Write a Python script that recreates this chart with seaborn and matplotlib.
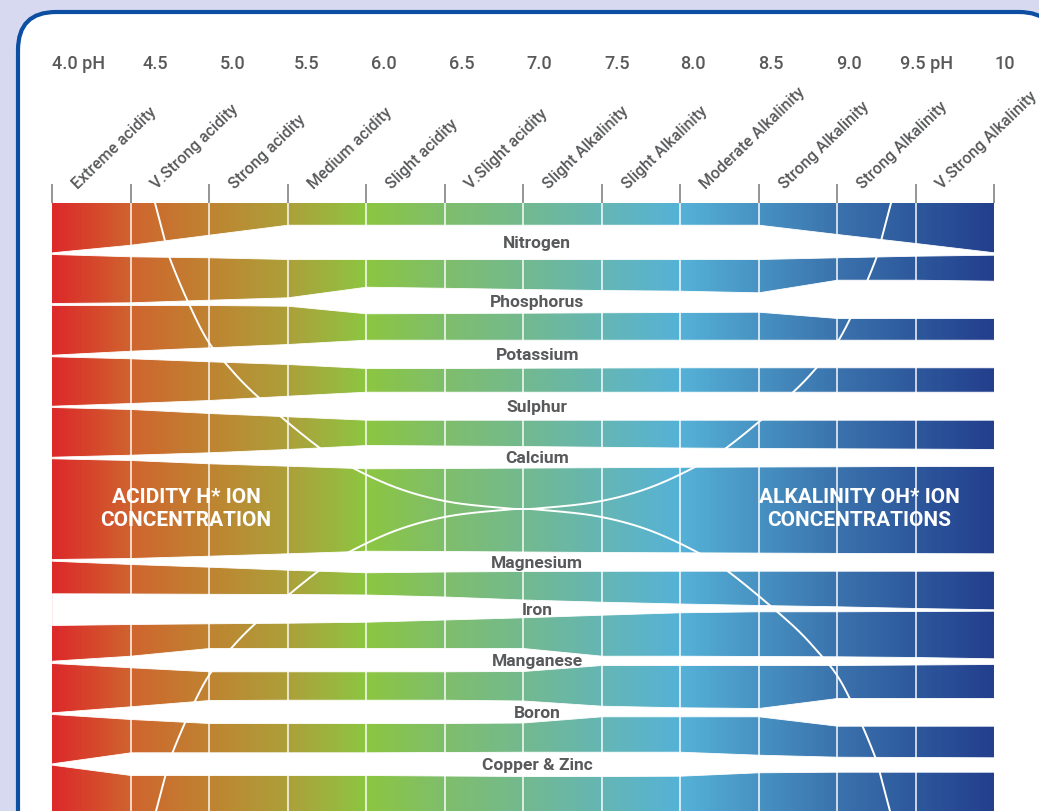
import numpy as np
import matplotlib
matplotlib.use("Agg")
import matplotlib.pyplot as plt
import seaborn as sns
from matplotlib.patches import FancyBboxPatch

# pH scale along the top
ph_ticks = [4.0, 4.5, 5.0, 5.5, 6.0, 6.5, 7.0, 7.5, 8.0, 8.5, 9.0, 9.5, 10.0]
ph_labels = ["4.0 pH", "4.5", "5.0", "5.5", "6.0", "6.5", "7.0", "7.5",
             "8.0", "8.5", "9.0", "9.5 pH", "10"]
zone_names = ["Extreme acidity", "V.Strong acidity", "Strong acidity",
              "Medium acidity", "Slight acidity", "V.Slight acidity",
              "Slight Alkalinity", "Slight Alkalinity", "Moderate Alkalinity",
              "Strong Alkalinity", "Strong Alkalinity", "V.Strong Alkalinity"]
# colour of the strip at each pH tick
ph_colors = ["#DC2A2A", "#CF652F", "#BF8431", "#ACA03A", "#8CC641", "#7FBE6C",
             "#73B98F", "#65B6B4", "#55B2D7", "#4893C3", "#3B73AD", "#2E599D",
             "#233F8D"]

# availability bands: upper and lower edge (depth from top, px) at each pH tick
nutrients = ["Nitrogen", "Phosphorus", "Potassium", "Sulphur", "Calcium",
             "Magnesium", "Iron", "Manganese", "Boron", "Copper & Zinc"]
nitrogen_top = [253.3, 245.7, 235.7, 225.7, 225.7, 225.7, 225.7, 225.7, 225.7, 225.7, 235.0, 244.0, 253.3]
nitrogen_bot = [255.0, 257.3, 258.3, 260.0, 260.0, 260.0, 260.0, 260.0, 260.0, 260.0, 258.3, 256.7, 255.7]
phosphorus_top = [304.0, 303.3, 300.7, 298.3, 287.7, 288.8, 290.0, 291.0, 291.7, 293.3, 280.7, 280.7, 281.7]
phosphorus_bot = [306.0, 306.0, 306.0, 306.7, 314.3, 314.0, 313.7, 313.3, 313.0, 312.7, 319.0, 319.0, 319.0]
potassium_top = [355.7, 351.7, 348.3, 345.0, 340.7, 340.7, 340.7, 340.7, 340.7, 340.7, 340.7, 340.7, 340.7]
potassium_bot = [357.3, 359.3, 362.3, 365.0, 369.0, 369.0, 368.7, 368.5, 368.3, 368.3, 368.3, 368.3, 368.3]
sulphur_top = [406.7, 404.0, 401.0, 396.7, 392.7, 392.7, 392.7, 392.7, 392.7, 392.7, 392.7, 392.7, 392.7]
sulphur_bot = [408.0, 410.0, 414.0, 417.3, 420.7, 420.7, 420.7, 420.7, 420.7, 420.7, 420.7, 420.7, 420.7]
calcium_top = [457.7, 455.7, 453.3, 450.0, 446.0, 446.5, 447.0, 447.8, 448.5, 449.0, 449.3, 449.6, 450.0]
calcium_bot = [459.3, 461.0, 464.3, 466.7, 469.3, 469.0, 468.6, 468.2, 467.8, 467.5, 467.3, 467.0, 467.0]
magnesium_top = [560.0, 559.0, 556.7, 554.3, 551.7, 552.0, 552.5, 553.0, 553.3, 553.6, 553.9, 554.1, 554.3]
magnesium_bot = [561.7, 565.0, 567.7, 570.7, 573.3, 572.5, 572.0, 571.8, 571.7, 571.7, 571.7, 571.7, 571.7]
iron_top = [594.3, 594.5, 594.8, 595.0, 595.5, 597.5, 600.5, 602.7, 604.5, 606.0, 607.3, 609.0, 610.3]
iron_bot = [626.0, 625.0, 624.3, 623.7, 622.7, 620.5, 618.3, 615.7, 613.3, 612.3, 612.3, 612.0, 611.7]
manganese_top = [661.7, 656.7, 649.0, 649.0, 649.0, 649.0, 649.0, 656.7, 656.7, 657.0, 657.3, 658.0, 659.3]
manganese_bot = [664.0, 668.3, 672.3, 672.3, 672.3, 672.3, 672.0, 666.0, 666.0, 666.0, 666.0, 665.5, 665.0]
boron_top = [713.3, 707.3, 701.0, 700.7, 700.7, 700.7, 701.5, 706.7, 708.3, 709.0, 699.0, 699.0, 699.0]
boron_bot = [715.0, 720.0, 724.0, 724.0, 724.0, 724.0, 723.5, 717.3, 717.3, 717.3, 726.7, 726.7, 726.7]
copper_zinc_top = [764.3, 753.3, 753.3, 753.3, 753.3, 753.0, 752.7, 752.7, 752.7, 755.7, 757.7, 758.0, 758.3]
copper_zinc_bot = [765.7, 776.0, 776.0, 776.0, 776.0, 776.5, 777.0, 777.0, 776.7, 773.3, 772.7, 772.7, 772.7]

band_tops = [nitrogen_top, phosphorus_top, potassium_top, sulphur_top, calcium_top,
             magnesium_top, iron_top, manganese_top, boron_top, copper_zinc_top]
band_bots = [nitrogen_bot, phosphorus_bot, potassium_bot, sulphur_bot, calcium_bot,
             magnesium_bot, iron_bot, manganese_bot, boron_bot, copper_zinc_bot]

# H+ concentration arc (upper left); the other three are mirror images of it
arc_ph = [4.656, 4.720, 4.752, 4.858, 4.985, 5.115, 5.304, 5.686,
          5.917, 6.217, 6.535, 6.896, 7.0]
arc_depth = [204.0, 241.7, 260.0, 300.0, 340.0, 366.0, 396.7, 446.7,
             469.0, 490.0, 503.0, 509.3, 510.0]

# layout (pixels)
W, H = 1039, 812
PX_PER_PH = 157.0
X_PH4 = 52.0
STRIP_TOP, TICK_TOP = 204, 185
label_nudge = [0, 12, 11, 6, 5, 4, 3, 3, 0, 0, -1, -15, 0]
GREY = "#58595B"


def catmull_rom(xs, ys, n=24):
    p = np.column_stack([xs, ys])
    p = np.vstack([2 * p[0] - p[1], p, 2 * p[-1] - p[-2]])
    t = np.linspace(0, 1, n, endpoint=False)[:, None]
    out = []
    for i in range(1, len(p) - 2):
        p0, p1, p2, p3 = p[i - 1], p[i], p[i + 1], p[i + 2]
        out.append(0.5 * (2 * p1 + (-p0 + p2) * t
                          + (2 * p0 - 5 * p1 + 4 * p2 - p3) * t ** 2
                          + (-p0 + 3 * p1 - 3 * p2 + p3) * t ** 3))
    out.append(p[-2][None])
    return np.vstack(out)


sns.set_theme(style="white")
plt.rcParams["font.family"] = ["Roboto", "DejaVu Sans"]

fig = plt.figure(figsize=(W / 100, H / 100), dpi=100)
fig.patch.set_facecolor("#D6D9EF")

# rounded white card with blue border, drawn in pixel units
bg = fig.add_axes([0, 0, 1, 1], zorder=0)
bg.set_xlim(0, W)
bg.set_ylim(H, 0)
bg.axis("off")
bg.add_patch(FancyBboxPatch((18, 13), 1057 - 18, 900,
                            boxstyle="round,pad=0,rounding_size=38",
                            fc="white", ec="#0B4EA2", lw=3.0))

ax = fig.add_axes([0, 0, 1, 1], zorder=1)
ax.patch.set_alpha(0)
ax.set_xlim(4 - X_PH4 / PX_PER_PH, 4 + (W - X_PH4) / PX_PER_PH)
ax.set_ylim(H, 0)
ax.axis("off")

# colour strip
cmap = sns.blend_palette(ph_colors, as_cmap=True)
ax.imshow(np.linspace(0, 1, 600)[None, :], cmap=cmap, aspect="auto",
          extent=(ph_ticks[0], ph_ticks[-1], H + 20, STRIP_TOP), zorder=1)
ax.vlines(ph_ticks[1:-1], STRIP_TOP, H + 20, colors="white", lw=1.4,
          alpha=0.75, zorder=2)
ax.vlines(ph_ticks, TICK_TOP, STRIP_TOP, colors="#8C8C8C", lw=1.3, zorder=2)

# ion concentration arcs
arc = catmull_rom(arc_ph, arc_depth)
centre_ph, centre_depth = 7.0, 510.0
for sx in (1, -1):
    for sy in (1, -1):
        xs = centre_ph + sx * (arc[:, 0] - centre_ph)
        ys = centre_depth + sy * (arc[:, 1] - centre_depth)
        sns.lineplot(x=xs, y=ys, sort=False, estimator=None, color="white",
                     lw=1.4, ax=ax, zorder=3)

# nutrient availability bands
label_ph = 7.09
for name, top, bot in zip(nutrients, band_tops, band_bots):
    ax.fill_between(ph_ticks, top, bot, color="white", lw=0.6,
                    edgecolor="white", zorder=4)
    mid = (np.interp(label_ph, ph_ticks, top) + np.interp(label_ph, ph_ticks, bot)) / 2
    ax.text(label_ph, mid + 1, name, ha="center", va="center", fontsize=12.5,
            fontweight="semibold", color=GREY, zorder=5)

# pH numbers and zone names
for ph, lab, nudge in zip(ph_ticks, ph_labels, label_nudge):
    ax.text(ph + nudge / PX_PER_PH, 64, lab, ha="left", va="center",
            fontsize=13, fontweight="medium", color=GREY)
for ph, zone in zip(ph_ticks[:-1], zone_names):
    ax.text(ph + 26 / PX_PER_PH, 190, zone, ha="left", va="baseline",
            rotation=44, rotation_mode="anchor", fontsize=11.5,
            fontweight="medium", color=GREY)

ax.text(4 + 134 / PX_PER_PH, 509, "ACIDITY H* ION\nCONCENTRATION", ha="center",
        va="center", fontsize=15, fontweight="bold", color="white",
        linespacing=1.2, zorder=6)
ax.text(4 + 807 / PX_PER_PH, 509, "ALKALINITY OH* ION\nCONCENTRATIONS",
        ha="center", va="center", fontsize=15, fontweight="bold",
        color="white", linespacing=1.2, zorder=6)

fig.savefig("out.png", dpi=100, facecolor=fig.get_facecolor())
